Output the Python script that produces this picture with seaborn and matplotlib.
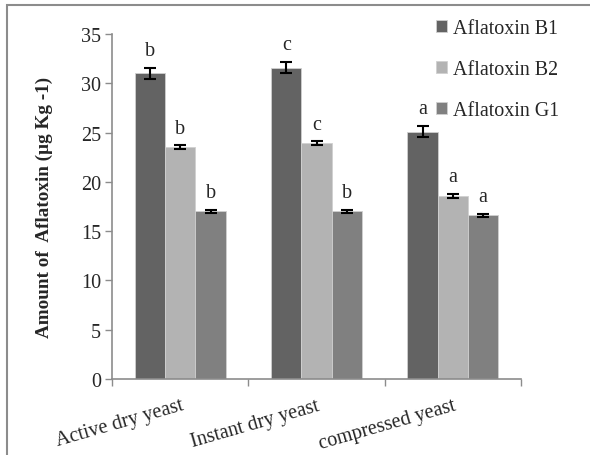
import numpy as np
import pandas as pd
import seaborn as sns
import matplotlib.pyplot as plt
from matplotlib.patches import Rectangle

# values
yeasts = ["Active dry yeast", "Instant dry yeast", "compressed yeast"]
toxins = ["Aflatoxin B1", "Aflatoxin B2", "Aflatoxin G1"]
b1 = [31.0, 31.6, 25.1]
b2 = [23.5, 23.9, 18.6]
g1 = [17.0, 17.0, 16.6]
b1_err = [0.55, 0.55, 0.55]
b2_err = [0.2, 0.2, 0.2]
g1_err = [0.15, 0.15, 0.15]
b1_letters = ["b", "c", "a"]
b2_letters = ["b", "c", "a"]
g1_letters = ["b", "b", "a"]
colors = ["#636363", "#b3b3b3", "#808080"]

df = pd.DataFrame({
    "yeast": yeasts * 3,
    "toxin": [t for t in toxins for _ in yeasts],
    "value": b1 + b2 + g1,
    "err": b1_err + b2_err + g1_err,
    "letter": b1_letters + b2_letters + g1_letters,
})

sns.set_style("white")
plt.rcParams["font.family"] = ["Liberation Serif", "DejaVu Serif"]

fig = plt.figure(figsize=(5.9, 4.56), dpi=100)
ax = fig.add_axes([0.19, 0.1667, 0.693, 0.7565])

sns.barplot(data=df, x="yeast", y="value", hue="toxin", order=yeasts,
            hue_order=toxins, palette=colors, width=0.667, errorbar=None,
            edgecolor="#d0d0d0", linewidth=0.6, ax=ax, legend=True)

# error bars and letters at the bar centres
for i, t in enumerate(toxins):
    sub = df[df.toxin == t].set_index("yeast").loc[yeasts]
    bars = ax.containers[i]
    xs = [p.get_x() + p.get_width() / 2 for p in bars]
    ax.errorbar(xs, sub.value, yerr=sub.err, fmt="none", ecolor="black",
                elinewidth=1.5, capsize=4.5, capthick=1.5)
    for x, v, e, l in zip(xs, sub.value, sub.err, sub.letter):
        ax.text(x, v + e + 0.8, l, ha="center", va="bottom", fontsize=14.5)

ax.set_ylim(0, 35)
ax.set_xlim(-0.5, 2.5)
ax.set_yticks(range(0, 36, 5))
ax.tick_params(axis="y", labelsize=14.5, length=5, width=1, color="#8c8c8c",
               direction="out", left=True, pad=3)
ax.set_xticks([-0.5, 0.5, 1.5, 2.5])
ax.set_xticklabels([])
ax.set_xticks([0, 1, 2], minor=True)
ax.set_xticklabels(yeasts, minor=True, rotation=16, ha="right",
                   rotation_mode="anchor", fontsize=14.5)
ax.tick_params(axis="x", which="major", length=5, width=1, color="#8c8c8c",
               direction="out", bottom=True)
ax.tick_params(axis="x", which="minor", length=0, pad=12)

for s in ["top", "right"]:
    ax.spines[s].set_visible(False)
for s in ["left", "bottom"]:
    ax.spines[s].set_color("#8c8c8c")
    ax.spines[s].set_linewidth(1.2)

ax.set_xlabel("")
ax.set_ylabel("Amount of  Aflatoxin (\u00b5g Kg -1)", fontsize=13.8,
              fontweight="bold", labelpad=20)

ax.legend(loc="upper left", bbox_to_anchor=(0.722, 0.978),
          bbox_transform=fig.transFigure, frameon=False, fontsize=14.4,
          handlelength=0.55, handleheight=0.55, handletextpad=0.3,
          labelspacing=1.1, borderpad=0)

# outer chart border (only top and left visible in the crop)
fig.patches.append(Rectangle((7 / 590, -0.1), 1.2, 1.1 - 6 / 456,
                             transform=fig.transFigure, fill=False,
                             edgecolor="#8c8c8c", linewidth=1.5))

fig.savefig("out.png", dpi=100)
